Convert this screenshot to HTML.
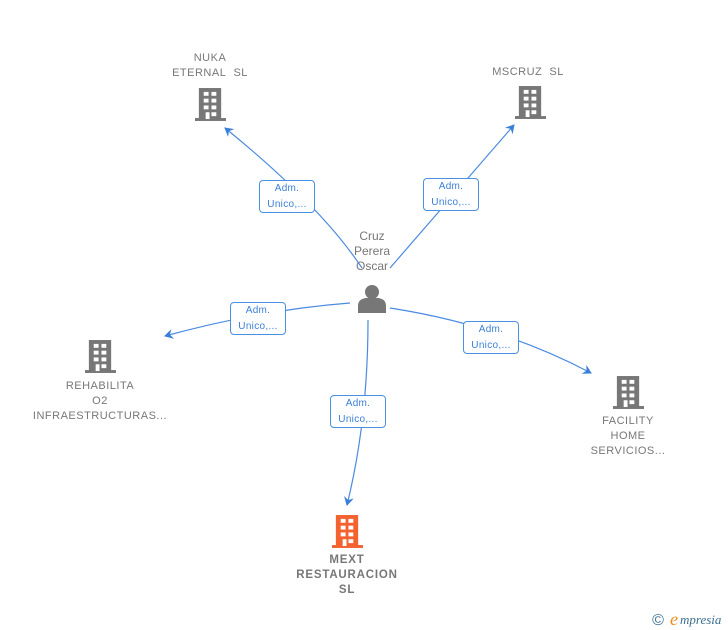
<!DOCTYPE html>
<html><head><meta charset="utf-8"><style>
html,body{margin:0;padding:0;background:#fff;}
body{width:728px;height:630px;overflow:hidden;position:relative;font-family:"Liberation Sans",sans-serif;}
.t{position:absolute;color:#777;font-size:11px;line-height:15px;text-align:center;white-space:nowrap;letter-spacing:0.5px;}
.lb{position:absolute;width:56px;height:33px;border:1px solid #4a90e2;border-radius:4px;background:#fff;color:#3b7fd8;font-size:10px;line-height:16px;text-align:center;box-sizing:border-box;padding-top:0px;letter-spacing:0.3px;}
</style></head><body>
<svg width="728" height="630" style="position:absolute;left:0;top:0">
<defs>
<symbol id="b" viewBox="0 0 32 34">
<rect x="4" y="0" width="23" height="32" fill="currentColor"/>
<rect x="0" y="31" width="32" height="3" fill="currentColor"/>
<g fill="#fff">
<rect x="9" y="4" width="5" height="4"/><rect x="17" y="4" width="5" height="4"/>
<rect x="9" y="11" width="5" height="4"/><rect x="17" y="11" width="5" height="4"/>
<rect x="9" y="18" width="5" height="4"/><rect x="17" y="18" width="5" height="4"/>
<rect x="11" y="25" width="4" height="7"/><rect x="17" y="25" width="5" height="4"/>
</g></symbol>
<marker id="a" markerWidth="10" markerHeight="10" refX="8" refY="5" orient="auto" markerUnits="userSpaceOnUse">
<path d="M0,0 L9,5 L0,10 L3,5 Z" fill="#3b7fd8"/></marker>
</defs>
<g stroke="#4a8ae0" stroke-width="1.2" fill="none">
<path d="M362,268 Q320,205 225,128" marker-end="url(#a)"/>
<path d="M390,268 L514,125" marker-end="url(#a)"/>
<path d="M350,303 Q260,310 165,336" marker-end="url(#a)"/>
<path d="M390,308 Q500,325 591,373" marker-end="url(#a)"/>
<path d="M368,320 Q368,420 347,505" marker-end="url(#a)"/>
</g>
<g style="color:#777">
<use href="#b" x="195" y="88" width="31" height="33"/>
<use href="#b" x="515" y="86" width="31" height="33"/>
<use href="#b" x="85" y="340" width="31" height="33"/>
<use href="#b" x="613" y="376" width="31" height="33"/>
</g>
<use href="#b" x="332" y="515" width="31" height="33" style="color:#f4622f"/>
<g fill="#777">
<circle cx="372" cy="292" r="7"/>
<path d="M358,313 L358,306 Q358,299 366,298 L378,298 Q386,299 386,306 L386,313 Z"/>
</g>
<text x="658" y="625" font-family="Liberation Sans" font-size="16" fill="#3b6e8f" text-anchor="middle">©</text>
<text x="670" y="625" font-family="Liberation Serif" font-style="italic" font-size="18" fill="#f28c1a">e</text>
<text x="680" y="624" font-family="Liberation Serif" font-style="italic" font-size="13" fill="#3b6e8f">mpresia</text>
</svg>
<div class="t" style="left:160px;top:51px;width:100px;">NUKA<br>ETERNAL&nbsp; SL</div>
<div class="t" style="left:478px;top:65px;width:100px;">MSCRUZ&nbsp; SL</div>
<div class="t" style="left:322px;top:229px;width:100px;font-size:12px;letter-spacing:0;">Cruz<br>Perera<br>Oscar</div>
<div class="t" style="left:20px;top:379px;width:160px;">REHABILITA<br>O2<br>INFRAESTRUCTURAS...</div>
<div class="t" style="left:578px;top:414px;width:100px;">FACILITY<br>HOME<br>SERVICIOS...</div>
<div class="t" style="left:277px;top:553px;width:140px;font-weight:bold;font-size:11.5px;letter-spacing:0.8px;">MEXT<br>RESTAURACION<br>SL</div>
<div class="lb" style="left:259px;top:180px;">Adm.<br>Unico,...</div>
<div class="lb" style="left:423px;top:178px;">Adm.<br>Unico,...</div>
<div class="lb" style="left:230px;top:302px;">Adm.<br>Unico,...</div>
<div class="lb" style="left:463px;top:321px;">Adm.<br>Unico,...</div>
<div class="lb" style="left:330px;top:395px;">Adm.<br>Unico,...</div>
</body></html>
